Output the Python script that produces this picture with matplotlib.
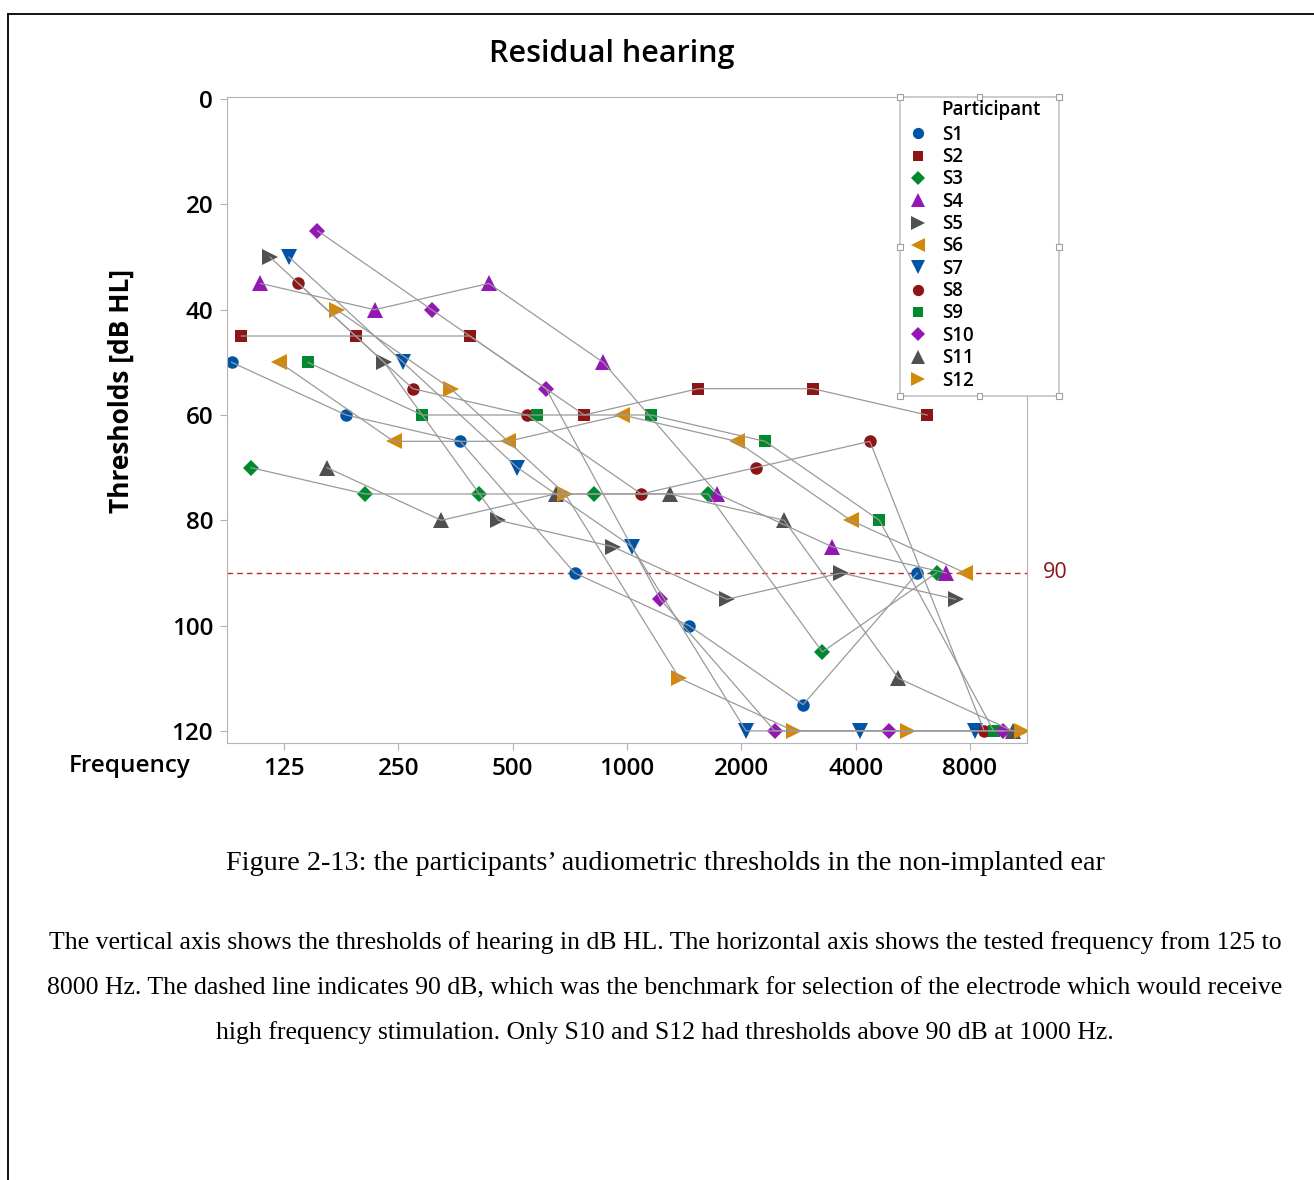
import matplotlib.pyplot as plt
from matplotlib.lines import Line2D
from matplotlib.patches import Rectangle
from matplotlib.transforms import offset_copy

plt.rcParams['font.family'] = ['Open Sans', 'DejaVu Sans']

# данные: пороги слуха (дБ HL) по частотам для каждого участника
freqs = ['125', '250', '500', '1000', '2000', '4000', '8000']
s1 = [50, 60, 65, 90, 100, 115, 90]
s2 = [45, 45, 45, 60, 55, 55, 60]
s3 = [70, 75, 75, 75, 75, 105, 90]
s4 = [35, 40, 35, 50, 75, 85, 90]
s5 = [30, 50, 80, 85, 95, 90, 95]
s6 = [50, 65, 65, 60, 65, 80, 90]
s7 = [30, 50, 70, 85, 120, 120, 120]
s8 = [35, 55, 60, 75, 70, 65, 120]
s9 = [50, 60, 60, 60, 65, 80, 120]
s10 = [25, 40, 55, 95, 120, 120, 120]
s11 = [70, 80, 75, 75, 80, 110, 120]
s12 = [40, 55, 75, 110, 120, 120, 120]
names = ['S1', 'S2', 'S3', 'S4', 'S5', 'S6', 'S7', 'S8', 'S9', 'S10', 'S11', 'S12']
series = [s1, s2, s3, s4, s5, s6, s7, s8, s9, s10, s11, s12]
benchmark = 90

colors = ['#0054A6', '#8E1515', '#008A2E', '#9416B4', '#505050', '#D4880A'] * 2
markers = ['o', 's', 'D', '^', '>', '<', 'v', 'o', 's', 'D', '^', '>']
msizes = {'o': 9, 's': 8.5, 'D': 8, '^': 11, 'v': 11, '<': 11, '>': 11}

fig = plt.figure(figsize=(13.14, 11.8), dpi=100)
ax = fig.add_axes([227/1314, 1-743/1180, 800/1314, 646/1180])

n = len(names)
for i in range(n):
    xs = [g + (i - 5.5) / 12 for g in range(len(freqs))]
    ax.plot(xs, series[i], ls='none', marker=markers[i], color=colors[i],
            ms=msizes[markers[i]], mew=0, zorder=2)
    ax.plot(xs, series[i], color='#9a9a9a', lw=0.9, zorder=3)

ax.axhline(benchmark, color='#C0282D', ls=(0, (4, 3)), lw=1, zorder=1)
ax.text(6.64, benchmark, '90', color='#8E1515', fontsize=15.5, va='center', ha='left')

ax.set_xlim(-0.5, 6.5)
ax.set_ylim(122.3, -0.4)
ax.set_xticks(range(len(freqs)))
ax.set_xticklabels(freqs)
ax.set_yticks([0, 20, 40, 60, 80, 100, 120])
for sp in ax.spines.values():
    sp.set_color('#b4b4b4')
ax.tick_params(colors='#b4b4b4', labelcolor='black', length=5, labelsize=17.5, pad=5)
for lbl in ax.get_xticklabels() + ax.get_yticklabels():
    lbl.set_fontweight('semibold')
ax.set_ylabel('Thresholds [dB HL]', fontsize=19, fontweight='bold')
ax.yaxis.set_label_coords(-0.115, 0.545)
ax.text(-0.045, 0.0, 'Frequency', ha='right', va='top', fontsize=17.5, fontweight='semibold',
        transform=offset_copy(ax.transAxes, fig=fig, y=-11, units='dots'))
fig.text(612/1314, 1-54/1180, 'Residual hearing', fontsize=22, fontweight='semibold',
         ha='center', va='center')

# рамка легенды с маркерами выделения
lx, ly, lw_, lh = 900/1314, 1-396/1180, 159/1314, 299/1180
fig.patches.append(Rectangle((lx, ly), lw_, lh, transform=fig.transFigure,
                             facecolor='white', edgecolor='#c4c4c4', lw=1.2, zorder=5))
hs = 6/1314, 6/1180
for hx in (lx, lx + lw_/2, lx + lw_):
    for hy in (ly, ly + lh/2, ly + lh):
        if hx == lx + lw_/2 and hy == ly + lh/2:
            continue
        fig.patches.append(Rectangle((hx - hs[0]/2, hy - hs[1]/2), hs[0], hs[1],
                                     transform=fig.transFigure, facecolor='white',
                                     edgecolor='#a0a0a0', lw=0.8, zorder=6))
fig.text(941/1314, 1-110/1180, 'Participant', fontsize=13.5, fontweight='semibold',
         ha='left', va='center', zorder=7)

handles = [Line2D([], [], ls='none', marker=markers[i], color=colors[i],
                  ms=msizes[markers[i]] * 0.9, mew=0) for i in range(n)]
leg = fig.legend(handles, names, loc='upper left',
                 bbox_to_anchor=(lx + 7/1314, 1-121/1180), frameon=False, fontsize=13.5,
                 handlelength=0.8, handletextpad=0.85,
                 labelspacing=0.125, borderaxespad=0, borderpad=0.2)
leg.set_zorder(7)
for t in leg.get_texts():
    t.set_fontweight('semibold')

# рамка страницы
fig.add_artist(Line2D([8/1314, 1], [1-14/1180, 1-14/1180], color='black', lw=1.3))
fig.add_artist(Line2D([8/1314, 8/1314], [0, 1-14/1180], color='black', lw=1.3))

serif = ['Liberation Serif', 'DejaVu Serif']
fig.text(665/1314, 1-864/1180,
         'Figure 2-13: the participants\u2019 audiometric thresholds in the non-implanted ear',
         family=serif, fontsize=20.3, ha='center', va='center')
para = ['The vertical axis shows the thresholds of hearing in dB HL. The horizontal axis shows the tested frequency from 125 to',
        '8000 Hz. The dashed line indicates 90 dB, which was the benchmark for selection of the electrode which would receive',
        'high frequency stimulation. Only S10 and S12 had thresholds above 90 dB at 1000 Hz.']
for k, line in enumerate(para):
    fig.text(665/1314, 1-(943 + 45*k)/1180, line, family=serif, fontsize=18.5,
             ha='center', va='center')

fig.savefig('out.png', dpi=100)
